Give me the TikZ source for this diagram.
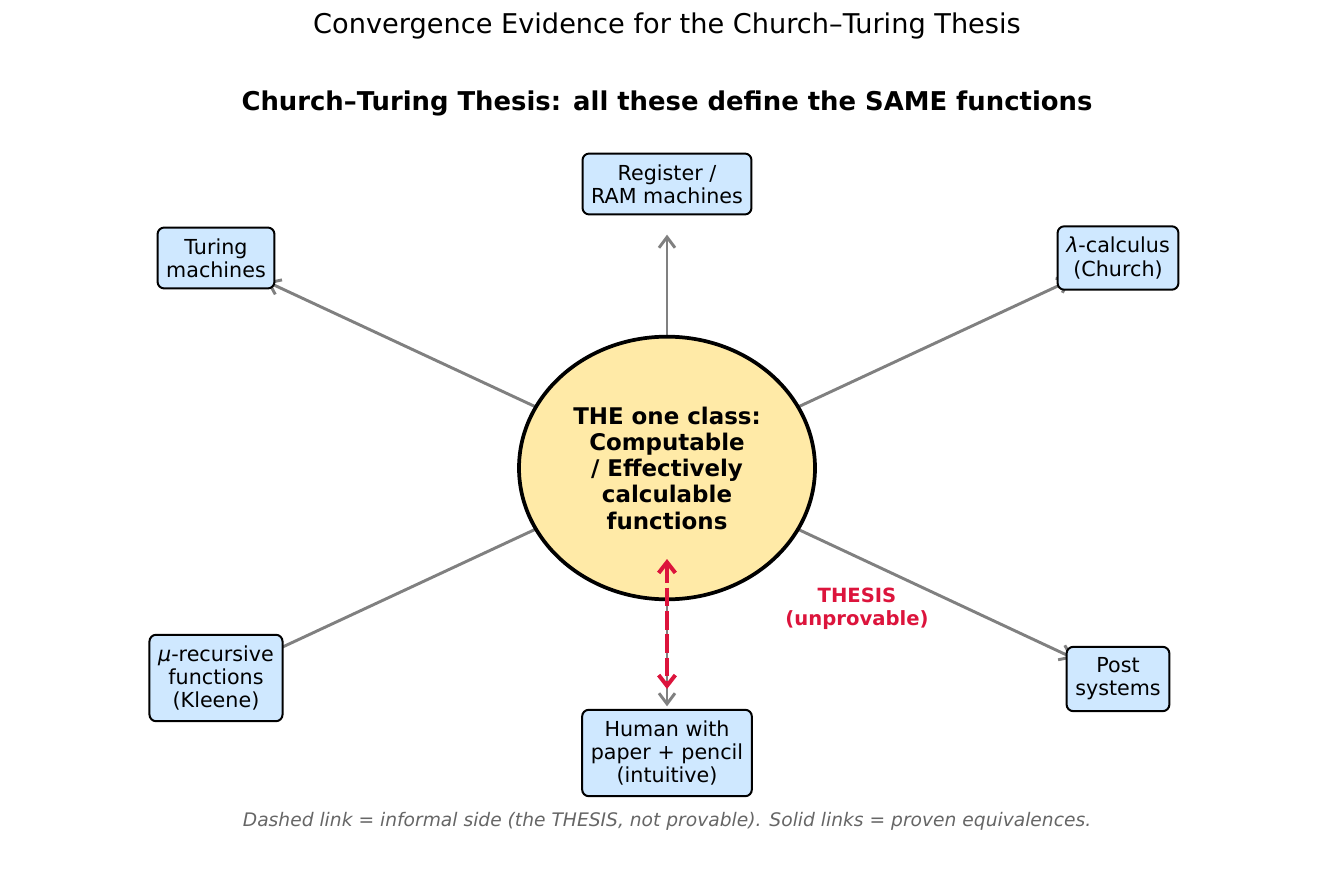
\documentclass[tikz,border=0pt]{standalone}
\usepackage{fontspec}
\setmainfont{DejaVu Sans}
\usetikzlibrary{arrows.meta,calc,shapes.geometric,backgrounds}
\definecolor{boxfill}{HTML}{CFE8FF}
\definecolor{ellfill}{HTML}{FFEAA7}
\definecolor{thesisred}{HTML}{DC143C}
\definecolor{footgray}{HTML}{666666}
\begin{document}
\begin{tikzpicture}[x=0.75pt,y=-0.75pt,
  model/.style={draw=black, line width=1.5pt, fill=boxfill, rounded corners=5pt,
    align=center, font=\fontsize{15.5}{17.3}\selectfont, inner xsep=6.5pt, inner ysep=8.2pt},
  core/.style={ellipse, draw=black, line width=2.8pt, fill=ellfill, minimum width=222pt,
    minimum height=197pt, inner sep=0pt, align=center,
    font=\fontsize{17.2}{19.7}\selectfont\bfseries},
  conn/.style={draw=gray, line width=2.2pt, -{Straight Barb[length=8pt,width=12pt]}},
  thesisarrow/.style={draw=thesisred, line width=3pt, dash pattern=on 14pt off 3.5pt,
    {Straight Barb[length=8pt,width=12.5pt]}-{Straight Barb[length=8pt,width=12.5pt]}},
]
\useasboundingbox (0,0) rectangle (1335,884);

\node[font=\fontsize{20.4}{24}\selectfont] (title) at (667,26) {Convergence Evidence for the Church–Turing Thesis};
\node[font=\fontsize{19.4}{23}\selectfont\bfseries] (subtitle) at (667,103) {Church–Turing Thesis: all these define the SAME functions};

\node[core] (core) at (667,468) {THE one class:\\Computable\\/ Effectively\\calculable\\functions};

\node[model] (reg) at (667,184) {Register /\\RAM machines};
\node[model] (tur) at (216,258) {Turing\\machines};
\node[model] (lam) at (1118,258) {{\itshape λ}-calculus\\(Church)};
\node[model] (mu) at (216,678) {{\itshape μ}-recursive\\functions\\(Kleene)};
\node[model] (post) at (1118,679) {Post\\systems};
\node[model] (hum) at (667,753) {Human with\\paper + pencil\\(intuitive)};

\begin{scope}[on background layer]
  \draw[conn] (core.center) -- ($(reg)!38pt!(core.center)$);
  \draw[conn] (core.center) -- ($(tur)!42pt!(core.center)$);
  \draw[conn] (core.center) -- ($(lam)!39pt!(core.center)$);
  \draw[conn] (core.center) -- ($(mu)!42pt!(core.center)$);
  \draw[conn] (core.center) -- ($(post)!37pt!(core.center)$);
  \draw[conn] (core.center) -- ($(hum)!35pt!(core.center)$);
\end{scope}

\coordinate (thtop) at ($(core.center)+(0,91)$);
\coordinate (thbot) at ($(hum)!48pt!(core.center)$);
\draw[thesisarrow] (thtop) -- (thbot);

\node[text=thesisred, align=center, font=\fontsize{14.7}{17}\selectfont\bfseries] (thesis) at (857,609) {THESIS\\(unprovable)};

\node[text=footgray, font=\fontsize{14}{17}\selectfont\itshape] (foot) at (667,821) {Dashed link = informal side (the THESIS, not provable). Solid links = proven equivalences.};
\end{tikzpicture}
\end{document}
